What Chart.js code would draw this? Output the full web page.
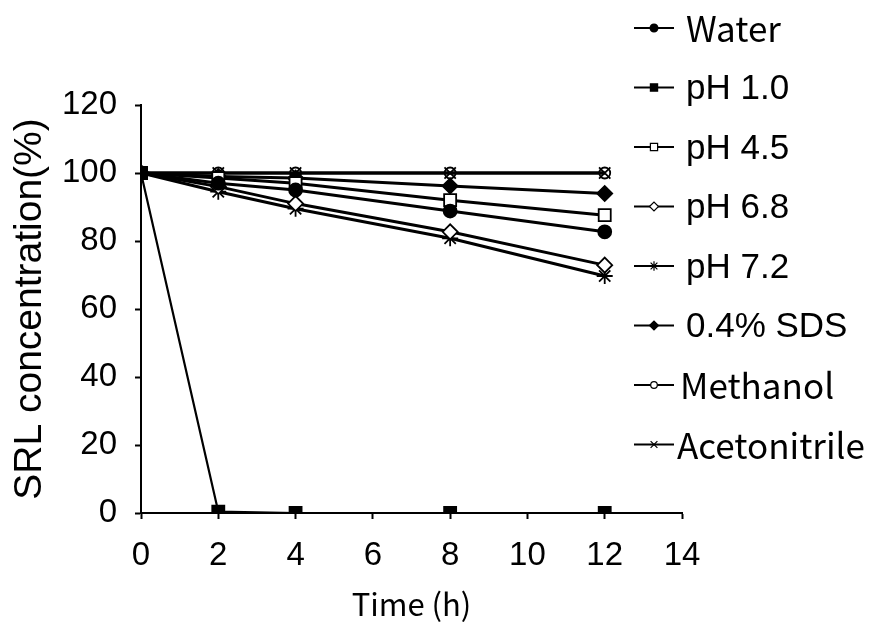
<!DOCTYPE html>
<html>
<head>
<meta charset="utf-8">
<script src="https://cdn.jsdelivr.net/npm/chart.js@4.4.0/dist/chart.umd.min.js"></script>
<style>
    html, body { margin: 0; padding: 0; background: #fff; }
    #grafico { width: 886px; height: 632px; }
</style>
</head>
<body>
<div id="grafico"><canvas id="lienzo" width="886" height="632"></canvas></div>
<script>
// Horas de muestreo
const tiempos = [0, 2, 4, 8, 12];

// Concentracion de SRL (%) por medio
const agua        = [100, 97, 95, 88.8, 82.7];
const ph10        = [100, 0.4, 0, 0, 0];
const ph45        = [100, 98.5, 97, 92, 87.6];
const ph68        = [100, 96, 91, 82.7, 72.9];
const ph72        = [100, 94.5, 89.5, 80.8, 69.7];
const sds         = [100, 99, 98.5, 96.2, 94];
const metanol     = [100, 100, 100, 100, 100];
const acetonitrilo = [100, 100, 100, 100, 100];

const etiquetas = ['Water', 'pH 1.0', 'pH 4.5', 'pH 6.8', 'pH 7.2', '0.4% SDS', 'Methanol', 'Acetonitrile'];
const ticksY = [0, 20, 40, 60, 80, 100, 120];
const ticksX = [0, 2, 4, 6, 8, 10, 12, 14];

const fuenteArial = '"Liberation Sans", Arial, sans-serif';
const fuenteYahei = '"Noto Sans CJK SC", "Noto Sans", sans-serif';

// estilo de cada marcador: [pointStyle, radio, relleno]
const marcadores = [
    ['circle', 6.5, '#000'],
    ['rect', 8.5, '#000'],
    ['rect', 8.5, '#fff'],
    ['rectRot', 7.5, '#fff'],
    ['star', 8, '#000'],
    ['rectRot', 7.5, '#000'],
    ['circle', 5.5, 'rgba(0,0,0,0)'],
    ['crossRot', 8, '#000']
];

const series = [agua, ph10, ph45, ph68, ph72, sds, metanol, acetonitrilo];

function armarDatasets() {
    return series.map((valores, i) => ({
        label: etiquetas[i],
        data: valores.map((v, k) => ({ x: tiempos[k], y: v })),
        borderColor: '#000',
        borderWidth: i === 1 ? 2.2 : 3,
        tension: 0,
        pointStyle: marcadores[i][0],
        pointRadius: marcadores[i][1],
        pointBackgroundColor: marcadores[i][2],
        pointBorderColor: '#000',
        pointBorderWidth: 1.8
    }));
}

// leyenda a la derecha: linea - marcador - linea
const leyendaPlugin = {
    id: 'leyendaDerecha',
    afterDraw(chart) {
        const ctx = chart.ctx;
        const y0 = 28, paso = 59.5;
        chart.data.datasets.forEach((ds, i) => {
            const y = y0 + paso * i;
            ctx.save();
            ctx.strokeStyle = '#000';
            ctx.lineWidth = 2;
            ctx.beginPath();
            ctx.moveTo(634, y);
            ctx.lineTo(674, y);
            ctx.stroke();
            ctx.fillStyle = ds.pointBackgroundColor === 'rgba(0,0,0,0)' ? '#fff' : ds.pointBackgroundColor;
            ctx.strokeStyle = '#000';
            ctx.lineWidth = 1.2;
            Chart.helpers.drawPoint(ctx, { pointStyle: ds.pointStyle, radius: ds.pointRadius * 0.6, rotation: 0, borderWidth: 1.2 }, 654, y);
            const yahei = ['Water', 'Methanol', 'Acetonitrile'].includes(ds.label);
            ctx.fillStyle = '#000';
            ctx.textBaseline = 'middle';
            ctx.font = yahei ? '35px ' + fuenteYahei : '35px ' + fuenteArial;
            let xTexto = 686;
            if (ds.label === 'Methanol') xTexto = 680;
            if (ds.label === 'Acetonitrile') xTexto = 677;
            ctx.fillText(ds.label, xTexto, y + (yahei ? 1 : 2));
            ctx.restore();
        });
    }
};

const grafico = new Chart(document.getElementById('lienzo'), {
    type: 'line',
    data: { datasets: armarDatasets() },
    plugins: [leyendaPlugin],
    options: {
        responsive: false,
        animation: false,
        layout: { padding: { left: 0, top: 105, right: 204, bottom: 0 } },
        plugins: {
            legend: { display: false },
            tooltip: { enabled: false }
        },
        scales: {
            x: {
                type: 'linear',
                min: 0,
                max: 14,
                afterBuildTicks: s => { s.ticks = ticksX.map(v => ({ value: v })); },
                afterFit: s => { s.height = 119; },
                ticks: { color: '#000', font: { family: fuenteArial, size: 33 }, padding: 17, maxRotation: 0 },
                grid: { drawOnChartArea: false, drawTicks: true, tickLength: 6, tickWidth: 2, color: '#000' },
                border: { color: '#000', width: 2 },
                title: { display: true, text: 'Time (h)', color: '#000', font: { family: fuenteYahei, size: 31 }, padding: { top: 0, bottom: 9 } }
            },
            y: {
                min: 0,
                max: 120,
                afterBuildTicks: s => { s.ticks = ticksY.map(v => ({ value: v })); },
                afterFit: s => { s.width = 141; },
                ticks: { color: '#000', font: { family: fuenteArial, size: 33 }, padding: 18 },
                grid: { drawOnChartArea: false, drawTicks: true, tickLength: 6, tickWidth: 2, color: '#000' },
                border: { color: '#000', width: 2 },
                title: { display: true, text: 'SRL concentration(%)', color: '#000', font: { family: fuenteArial, size: 39 }, padding: { top: 7, bottom: 0 } }
            }
        }
    }
});
</script>
</body>
</html>
